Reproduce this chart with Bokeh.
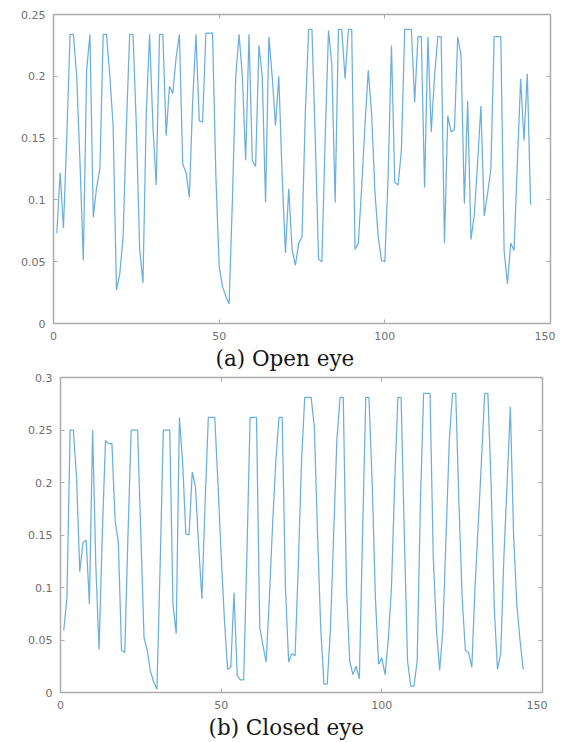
from bokeh.plotting import figure
from bokeh.models import LinearAxis, Title, Range1d, FixedTicker, Spacer
from bokeh.layouts import column, row
from bokeh.embed import file_html
from bokeh.resources import INLINE

open_x = list(range(1, 145))
open_y = [
    0.073, 0.122, 0.077, 0.150, 0.234, 0.234, 0.200, 0.130, 0.051, 0.205,
    0.234, 0.086, 0.110, 0.125, 0.234, 0.234, 0.200, 0.160, 0.027, 0.040,
    0.070, 0.160, 0.234, 0.234, 0.160, 0.060, 0.033, 0.170, 0.234, 0.160,
    0.112, 0.234, 0.234, 0.152, 0.192, 0.186, 0.215, 0.234, 0.129, 0.122,
    0.102, 0.180, 0.234, 0.164, 0.163, 0.235, 0.235, 0.235, 0.120, 0.046,
    0.030, 0.022, 0.016, 0.100, 0.200, 0.234, 0.200, 0.132, 0.234, 0.132,
    0.127, 0.225, 0.200, 0.098, 0.232, 0.200, 0.160, 0.200, 0.120, 0.057,
    0.109, 0.060, 0.047, 0.065, 0.070, 0.170, 0.238, 0.238, 0.150, 0.052,
    0.050, 0.150, 0.237, 0.210, 0.098, 0.238, 0.238, 0.198, 0.238, 0.238,
    0.060, 0.065, 0.110, 0.160, 0.205, 0.170, 0.107, 0.070, 0.051, 0.050,
    0.120, 0.225, 0.114, 0.112, 0.140, 0.238, 0.238, 0.238, 0.179, 0.232,
    0.232, 0.110, 0.232, 0.155, 0.200, 0.232, 0.232, 0.065, 0.168, 0.155,
    0.157, 0.232, 0.217, 0.097, 0.180, 0.068, 0.088, 0.130, 0.176, 0.087,
    0.105, 0.125, 0.232, 0.232, 0.232, 0.059, 0.032, 0.065, 0.059, 0.130,
    0.198, 0.148, 0.202, 0.096,
]

closed_x = list(range(1, 145))
closed_y = [
    0.059, 0.090, 0.250, 0.250, 0.205, 0.115, 0.143, 0.145, 0.084, 0.250,
    0.120, 0.041, 0.150, 0.240, 0.237, 0.237, 0.164, 0.143, 0.040, 0.038,
    0.150, 0.250, 0.250, 0.250, 0.150, 0.052, 0.040, 0.020, 0.010, 0.003,
    0.120, 0.250, 0.250, 0.250, 0.084, 0.056, 0.262, 0.220, 0.151, 0.150,
    0.210, 0.196, 0.140, 0.089, 0.180, 0.262, 0.262, 0.262, 0.200, 0.130,
    0.070, 0.022, 0.024, 0.095, 0.016, 0.012, 0.012, 0.130, 0.262, 0.262,
    0.262, 0.062, 0.045, 0.029, 0.090, 0.160, 0.220, 0.262, 0.262, 0.100,
    0.029, 0.037, 0.035, 0.120, 0.220, 0.281, 0.281, 0.281, 0.253, 0.150,
    0.060, 0.008, 0.008, 0.060, 0.150, 0.240, 0.281, 0.281, 0.100, 0.030,
    0.017, 0.025, 0.013, 0.150, 0.281, 0.281, 0.200, 0.090, 0.027, 0.033,
    0.017, 0.050, 0.100, 0.200, 0.281, 0.281, 0.150, 0.030, 0.006, 0.006,
    0.030, 0.180, 0.285, 0.285, 0.285, 0.130, 0.060, 0.021, 0.060, 0.150,
    0.240, 0.285, 0.285, 0.180, 0.090, 0.040, 0.038, 0.024, 0.100, 0.160,
    0.220, 0.285, 0.285, 0.200, 0.080, 0.022, 0.037, 0.130, 0.200, 0.272,
    0.150, 0.084, 0.050, 0.022,
]

x_ticks = [0, 50, 100, 150]
open_y_ticks = [0, 0.05, 0.1, 0.15, 0.2, 0.25]
open_y_labels = ["0", "0.05", "0.1", "0.15", "0.2", "0.25"]
closed_y_ticks = [0, 0.05, 0.1, 0.15, 0.2, 0.25, 0.3]
closed_y_labels = ["0", "0.05", "0.1", "0.15", "0.2", "0.25", "0.3"]
caption_a = "(a) Open eye"
caption_b = "(b) Closed eye"

LINE = "#6aafe0"
AX = "#ababab"
LBL = "#707070"


def style_axis(ax, ticks, labels=None, show_labels=True):
    ax.ticker = FixedTicker(ticks=ticks)
    ax.minor_tick_line_color = None
    ax.major_tick_in = 4
    ax.major_tick_out = 0
    ax.axis_line_color = AX
    ax.major_tick_line_color = AX
    ax.axis_line_width = 1.5
    if labels is not None:
        ax.major_label_overrides = {t: l for t, l in zip(ticks, labels)}
    if show_labels:
        ax.major_label_text_font = "DejaVu Sans"
        ax.major_label_text_font_size = "11px"
        ax.major_label_text_color = LBL
        ax.major_label_standoff = 8
    else:
        ax.major_label_text_color = None
        ax.major_label_text_font_size = "1px"
        ax.major_label_standoff = 0


def make_panel(xs, ys, ymax, yticks, ylabels, caption, fw, fh,
               bl, bt, br, bb, cap_offset):
    p = figure(frame_width=fw, frame_height=fh, output_backend="svg",
               toolbar_location=None, x_range=Range1d(0, 150),
               y_range=Range1d(0, ymax), min_border_left=bl,
               min_border_top=bt, min_border_right=br, min_border_bottom=bb,
               x_axis_location=None, y_axis_location=None)
    p.outline_line_color = None
    p.xgrid.grid_line_color = None
    p.ygrid.grid_line_color = None
    p.background_fill_color = "white"
    p.border_fill_color = "white"

    bx = LinearAxis()
    style_axis(bx, x_ticks)
    p.add_layout(bx, "below")
    ly = LinearAxis()
    style_axis(ly, yticks, ylabels)
    p.add_layout(ly, "left")
    tx = LinearAxis()
    style_axis(tx, x_ticks, show_labels=False)
    p.add_layout(tx, "above")
    ry = LinearAxis()
    style_axis(ry, yticks, show_labels=False)
    p.add_layout(ry, "right")

    p.line(xs, ys, line_color=LINE, line_width=1.25)

    t = Title(text=caption, align="left", offset=cap_offset,
              text_font="DejaVu Serif", text_font_size="21.5px",
              text_font_style="normal", text_color="#151515", standoff=2)
    p.add_layout(t, "below")
    return p


p1 = make_panel(open_x, open_y, 0.25, open_y_ticks, open_y_labels, caption_a,
                497, 309, 53, 14, 5, 50, 162)
p2 = make_panel(closed_x, closed_y, 0.3, closed_y_ticks, closed_y_labels,
                caption_b, 482, 315, 53, 4, 5, 47, 148)

layout = column(p1, row(Spacer(width=7, height=10), p2, spacing=0), spacing=0)
open("out.html", "w").write(file_html(layout, INLINE))
